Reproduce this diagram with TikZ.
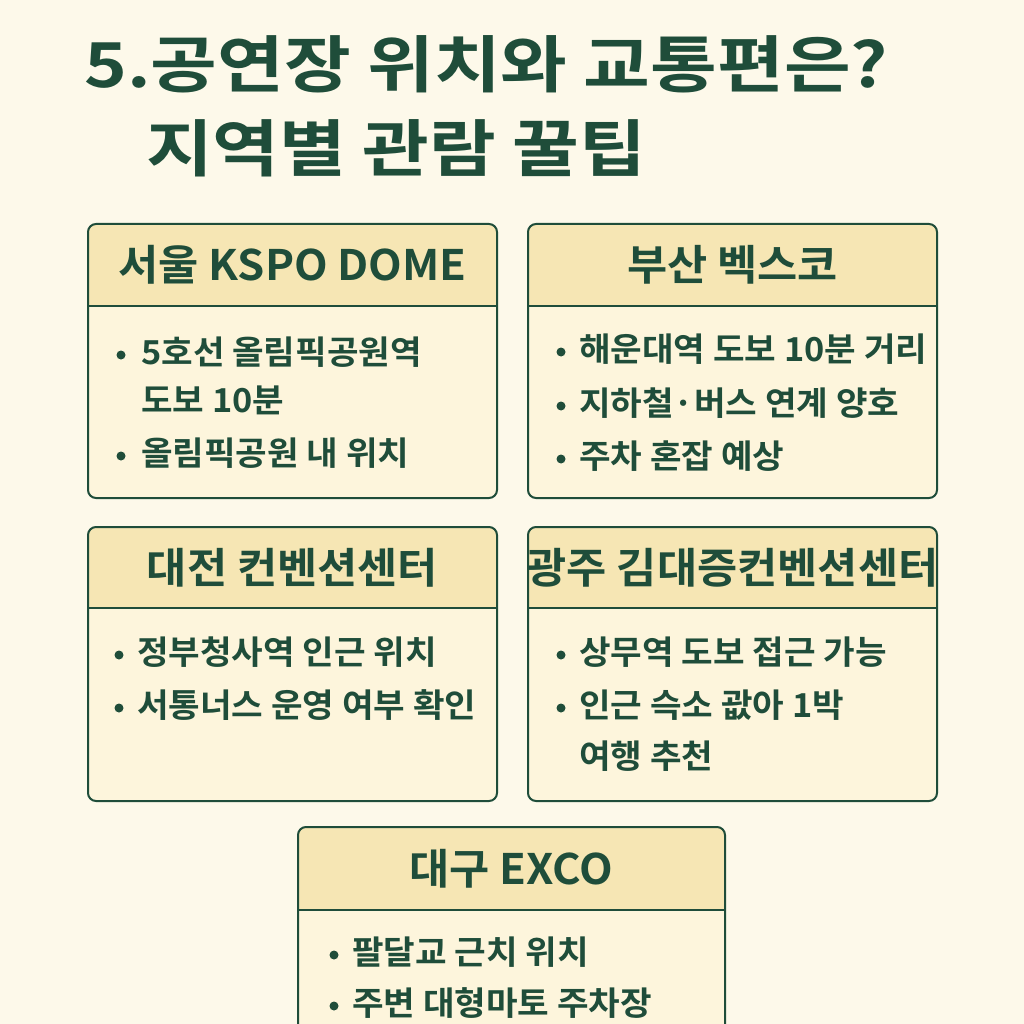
\documentclass[tikz,border=0pt]{standalone}
\usepackage{fontspec}
\setmainfont{Noto Sans CJK KR}[BoldFont={* Bold}]
\newfontfamily\kb{Noto Sans CJK KR Bold}
\definecolor{bgc}{HTML}{FDF9EA}
\definecolor{hdc}{HTML}{F6E6B4}
\definecolor{bdc}{HTML}{FDF5DC}
\definecolor{grn}{HTML}{1F4D3A}
\tikzset{
 card/.style={draw=grn,line width=2pt,fill=bdc,rounded corners=8pt},
 hd/.style={text=grn,font=\kb\fontsize{42}{44}\selectfont,anchor=center,xscale=1.04,transform shape},
 it/.style={text=grn,font=\kb\fontsize{33}{36}\selectfont,anchor=west,inner sep=0pt,xscale=1.04},
 dot/.style={circle,fill=grn,inner sep=0pt,minimum size=9pt},
 ttl/.style={text=grn,font=\kb\fontsize{62}{66}\selectfont,anchor=west,inner sep=0pt,xscale=1.17}
}
\newcommand{\cardbox}[6]{% x1 y1 x2 y2 yh name
 \begin{scope}
 \clip[rounded corners=8pt] (#1,#2) rectangle (#3,#4);
 \fill[bdc] (#1,#2) rectangle (#3,#4);
 \fill[hdc] (#1,#2) rectangle (#3,#5);
 \draw[grn,line width=1.5pt] (#1,#5) -- (#3,#5);
 \end{scope}
 \draw[grn,line width=2pt,rounded corners=8pt] (#1,#2) rectangle (#3,#4);
 \coordinate (#6) at ({(#1+#3)/2},{(#2+#5)/2});
}
\begin{document}
\begin{tikzpicture}[x=1pt,y=-1pt]
\fill[bgc] (0,0) rectangle (1024,1024);
\useasboundingbox (0,0) rectangle (1024,1024);
\node[ttl] (t1) at (84,64) {5.공연장 위치와 교통편은?};
\node[ttl] (t2) at (146,148) {지역별 관람 꿀팁};
% Seoul
\cardbox{88}{224}{497}{498}{306}{hs}
\node[hd] (hsT) at (hs) {서울 KSPO DOME};
\node[dot] (s1d) at (121,355) {}; \node[it] (s1) at (141,352) {5호선 올림픽공원역};
\node[it] (s1b) at (141,400) {도보 10분};
\node[dot] (s2d) at (121,456) {}; \node[it] (s2) at (141,453) {올림픽공원 내 위치};
% Busan
\cardbox{528}{224}{937}{498}{306}{hb}
\node[hd] (hbT) at (hb) {부산 벡스코};
\node[dot] (b1d) at (561,352) {}; \node[it] (b1) at (579,349) {해운대역 도보 10분 거리};
\node[dot] (b2d) at (561,406) {}; \node[it] (b2) at (579,403) {지하철·버스 연계 양호};
\node[dot] (b3d) at (561,459) {}; \node[it] (b3) at (579,456) {주차 혼잡 예상};
% Daejeon
\cardbox{88}{527}{497}{801}{608}{hd}
\node[hd] (hdT) at (hd) {대전 컨벤션센터};
\node[dot] (d1d) at (119,655) {}; \node[it] (d1) at (137,652) {정부청사역 인근 위치};
\node[dot] (d2d) at (119,708) {}; \node[it] (d2) at (137,705) {서통너스 운영 여부 확인};
% Gwangju
\cardbox{528}{527}{937}{801}{608}{hg}
\node[hd] (hgT) at (hg) {광주 김대증컨벤션센터};
\node[dot] (g1d) at (561,655) {}; \node[it] (g1) at (579,652) {상무역 도보 접근 가능};
\node[dot] (g2d) at (561,708) {}; \node[it] (g2) at (579,705) {인근 슥소 괎아 1박};
\node[it] (g2b) at (579,756) {여행 추천};
% Daegu
\cardbox{298}{827}{725}{1040}{910}{hx}
\node[hd] (hxT) at (hx) {대구 EXCO};
\node[dot] (x1d) at (334,955) {}; \node[it] (x1) at (352,952) {팔달교 근치 위치};
\node[dot] (x2d) at (334,1006) {}; \node[it] (x2) at (352,1003) {주변 대형마토 주차장};
\end{tikzpicture}
\end{document}
